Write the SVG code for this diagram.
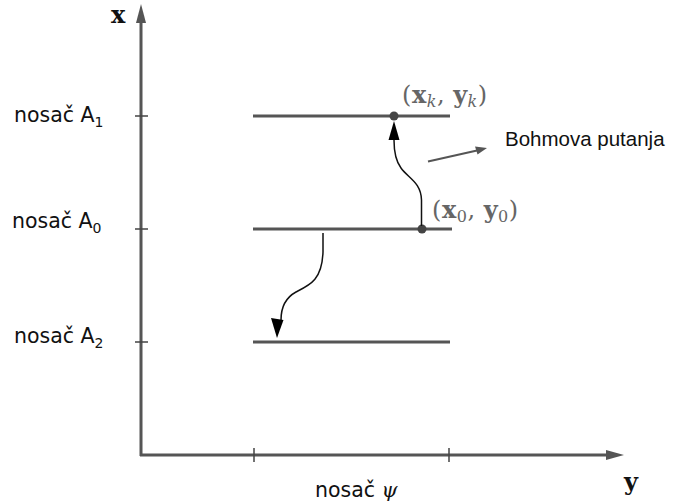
<svg xmlns="http://www.w3.org/2000/svg" width="673" height="504" viewBox="0 0 673 504">
<style>
.ax{stroke:#555;stroke-width:3;fill:none}
.tick{stroke:#444;stroke-width:1.5}
.bar{stroke:#555;stroke-width:3;fill:none}
.traj{stroke:#111;stroke-width:1.5;fill:none}
.lbl{font-family:"DejaVu Sans",sans-serif;font-size:20.5px;fill:#111}
.sub{font-size:14px}
.math{font-family:"DejaVu Serif","Liberation Serif",serif;font-size:24px;fill:#666}
.ms{font-size:16px}
.ml{font-family:"DejaVu Serif","Liberation Serif",serif;font-weight:bold;font-size:24px;fill:#111}
</style>
<g id="axes">
<path class="ax" d="M141,456 L141,22"/>
<path d="M141,4 L146,23 L136,23 Z" fill="#555"/>
<path class="ax" d="M140,455 L607,455"/>
<path d="M624,455 L606,450 L606,460 Z" fill="#555"/>
<path class="tick" d="M135,116 H148 M135,229 H148 M135,342 H148 M254,448 V462 M449,448 V462"/>
<text class="ml" x="111" y="23">x</text>
<text class="ml" x="624" y="490">y</text>
</g>
<g id="A1">
<path class="bar" d="M253,116 H450"/>
<text class="lbl" x="14" y="122">nosač A<tspan class="sub" dy="5">1</tspan></text>
</g>
<g id="A0">
<path class="bar" d="M253,229 H452"/>
<text class="lbl" x="12" y="228">nosač A<tspan class="sub" dy="5">0</tspan></text>
</g>
<g id="A2">
<path class="bar" d="M253,342 H450"/>
<text class="lbl" x="14" y="343">nosač A<tspan class="sub" dy="5">2</tspan></text>
</g>
<g id="psi">
<text class="lbl" x="315" y="497">nosač <tspan font-family="DejaVu Serif,serif" font-style="italic">ψ</tspan></text>
</g>
<g id="pk">
<circle cx="394" cy="116" r="4.5" fill="#444"/>
<text class="math" x="402" y="103" letter-spacing="0.5">(<tspan font-weight="bold">x</tspan><tspan class="ms" font-style="italic" dy="4">k</tspan><tspan dy="-4">, </tspan><tspan font-weight="bold">y</tspan><tspan class="ms" font-style="italic" dy="4">k</tspan><tspan dy="-4">)</tspan></text>
</g>
<g id="p0">
<circle cx="422" cy="229" r="4.5" fill="#444"/>
<text class="math" x="432" y="218" letter-spacing="0.5">(<tspan font-weight="bold">x</tspan><tspan class="ms" dy="4">0</tspan><tspan dy="-4">, </tspan><tspan font-weight="bold">y</tspan><tspan class="ms" dy="4">0</tspan><tspan dy="-4">)</tspan></text>
</g>
<g id="bohm">
<text x="505" y="146" font-family="Liberation Sans,Arial,sans-serif" font-size="20.5" fill="#111">Bohmova putanja</text>
</g>
<g id="connectors">
<path class="traj" d="M421.5,226 L421.5,200 C421,182 408,178 401,168 C395,160 394,150 394,140" />
<path d="M394,121 L388.5,140 L399.5,140 Z" fill="#000"/>
<path class="traj" d="M323,233 L323,252 C322,280 310,285 296,292 C285,298 281,308 281,320"/>
<path d="M277,338 L271,318 L283.5,320 Z" fill="#000"/>
<path d="M428,161.5 L477,150.5" stroke="#555" stroke-width="2" fill="none"/>
<path d="M487,148 L475,146.5 L477.5,154.5 Z" fill="#555"/>
</g>
</svg>
